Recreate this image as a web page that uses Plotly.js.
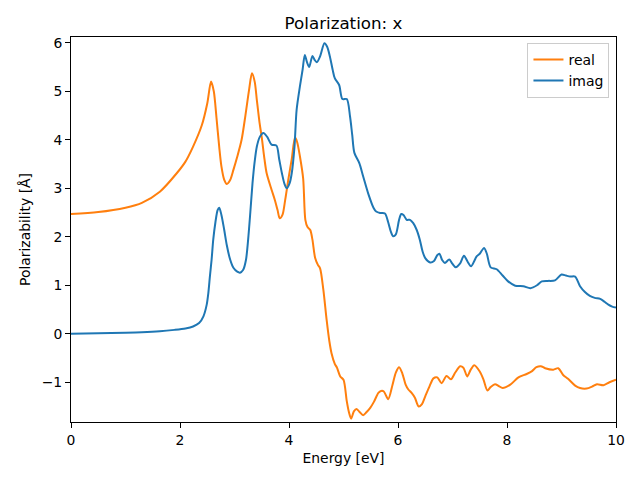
<!DOCTYPE html>
<html>
<head>
<meta charset="utf-8">
<script src="https://cdn.plot.ly/plotly-3.0.1.min.js"></script>
<style>html,body{margin:0;padding:0;background:#fff;}#chart{width:640px;height:480px;}</style>
</head>
<body>
<div id="chart"></div>
<script>
// Energy [eV] and values
const realE = [0, 0.5, 1.0, 1.3, 1.63, 1.94, 2.1, 2.24, 2.4, 2.5, 2.57, 2.62, 2.67, 2.72, 2.76, 2.81, 2.86, 2.92, 2.98, 3.05, 3.13, 3.2, 3.27, 3.32, 3.37, 3.41, 3.46, 3.5, 3.55, 3.59, 3.68, 3.74, 3.79, 3.83, 3.88, 3.93, 3.99, 4.05, 4.11, 4.15, 4.2, 4.26, 4.3, 4.34, 4.39, 4.43, 4.48, 4.53, 4.57, 4.63, 4.69, 4.74, 4.78, 4.84, 4.88, 4.94, 5.0, 5.06, 5.1, 5.14, 5.19, 5.24, 5.3, 5.36, 5.42, 5.49, 5.56, 5.64, 5.69, 5.74, 5.82, 5.9, 5.96, 6.02, 6.08, 6.14, 6.19, 6.25, 6.31, 6.38, 6.44, 6.5, 6.58, 6.65, 6.72, 6.8, 6.89, 6.97, 7.05, 7.14, 7.2, 7.27, 7.33, 7.4, 7.5, 7.57, 7.64, 7.7, 7.78, 7.85, 7.92, 8.06, 8.21, 8.36, 8.46, 8.54, 8.62, 8.7, 8.85, 8.94, 9.03, 9.12, 9.25, 9.34, 9.46, 9.56, 9.65, 9.77, 9.88, 10.0];
const realV = [2.47, 2.51, 2.6, 2.7, 2.93, 3.31, 3.55, 3.86, 4.3, 4.75, 5.2, 5.0, 4.45, 3.85, 3.45, 3.18, 3.09, 3.17, 3.38, 3.65, 4.0, 4.5, 5.05, 5.37, 5.2, 4.82, 4.35, 4.05, 3.6, 3.31, 2.97, 2.76, 2.55, 2.38, 2.45, 2.76, 3.2, 3.6, 4.05, 3.95, 3.66, 3.2, 2.35, 2.2, 2.14, 1.94, 1.56, 1.42, 1.35, 0.91, 0.29, -0.15, -0.4, -0.62, -0.7, -0.88, -0.95, -1.39, -1.62, -1.75, -1.6, -1.55, -1.62, -1.68, -1.62, -1.53, -1.4, -1.22, -1.18, -1.19, -1.35, -1.05, -0.8, -0.69, -0.82, -1.05, -1.15, -1.22, -1.32, -1.5, -1.45, -1.29, -1.08, -0.92, -0.9, -1.02, -0.87, -0.94, -0.8, -0.67, -0.7, -0.88, -0.75, -0.65, -0.78, -0.95, -1.17, -1.1, -1.04, -1.08, -1.12, -1.05, -0.9, -0.83, -0.77, -0.69, -0.67, -0.71, -0.74, -0.71, -0.85, -0.93, -1.07, -1.12, -1.13, -1.09, -1.04, -1.06, -1.0, -0.95];

const imagE = [0, 0.5, 1.0, 1.3, 1.63, 1.9, 2.1, 2.24, 2.35, 2.43, 2.49, 2.52, 2.55, 2.58, 2.61, 2.65, 2.69, 2.72, 2.76, 2.81, 2.86, 2.92, 2.98, 3.05, 3.1, 3.16, 3.21, 3.25, 3.29, 3.33, 3.37, 3.41, 3.46, 3.53, 3.6, 3.68, 3.77, 3.82, 3.87, 3.92, 3.96, 4.01, 4.05, 4.1, 4.14, 4.2, 4.25, 4.29, 4.33, 4.37, 4.43, 4.47, 4.51, 4.57, 4.65, 4.7, 4.75, 4.8, 4.84, 4.92, 4.98, 5.06, 5.12, 5.16, 5.2, 5.29, 5.36, 5.46, 5.55, 5.6, 5.67, 5.76, 5.82, 5.87, 5.91, 5.96, 6.02, 6.06, 6.1, 6.16, 6.22, 6.28, 6.34, 6.4, 6.45, 6.5, 6.59, 6.66, 6.72, 6.76, 6.81, 6.86, 6.94, 7.0, 7.06, 7.14, 7.21, 7.28, 7.34, 7.4, 7.44, 7.5, 7.58, 7.63, 7.7, 7.81, 7.92, 8.02, 8.15, 8.3, 8.43, 8.55, 8.64, 8.75, 8.88, 9.0, 9.08, 9.16, 9.25, 9.34, 9.43, 9.52, 9.61, 9.71, 9.79, 9.86, 9.93, 10.0];
const imagV = [0.0, 0.01, 0.02, 0.03, 0.05, 0.08, 0.11, 0.15, 0.22, 0.36, 0.6, 0.84, 1.2, 1.53, 1.94, 2.3, 2.55, 2.6, 2.45, 2.15, 1.82, 1.53, 1.36, 1.28, 1.26, 1.32, 1.52, 1.94, 2.5, 3.1, 3.55, 3.86, 4.05, 4.14, 4.06, 3.9, 3.88, 3.6, 3.31, 3.08, 3.0, 3.1, 3.31, 3.85, 4.62, 5.1, 5.45, 5.75, 5.6, 5.5, 5.73, 5.65, 5.6, 5.72, 5.99, 5.92, 5.72, 5.45, 5.27, 5.13, 4.84, 4.84, 4.48, 4.1, 3.73, 3.52, 3.25, 2.87, 2.6, 2.52, 2.49, 2.48, 2.3, 2.1, 2.01, 2.05, 2.35, 2.47, 2.45, 2.35, 2.35, 2.28, 2.15, 1.94, 1.7, 1.56, 1.47, 1.5, 1.62, 1.65, 1.52, 1.46, 1.53, 1.44, 1.37, 1.45, 1.61, 1.48, 1.39, 1.5, 1.59, 1.65, 1.77, 1.65, 1.37, 1.33, 1.2, 1.08, 0.99, 0.98, 0.94, 1.0, 1.08, 1.09, 1.1, 1.22, 1.2, 1.18, 1.18, 0.98, 0.86, 0.78, 0.74, 0.72, 0.66, 0.6, 0.56, 0.54];

const xTicks = [0, 2, 4, 6, 8, 10];
const yTicks = [-1, 0, 1, 2, 3, 4, 5, 6];

const traces = [
  {x: realE, y: realV, name: 'real', type: 'scatter', mode: 'lines',
   line: {color: '#ff7f0e', width: 2, shape: 'spline', smoothing: 0.8}},
  {x: imagE, y: imagV, name: 'imag', type: 'scatter', mode: 'lines',
   line: {color: '#1f77b4', width: 2, shape: 'spline', smoothing: 0.8}}
];

const font = {family: 'DejaVu Sans, sans-serif', color: '#000'};
const layout = {
  width: 640, height: 480,
  paper_bgcolor: '#fff', plot_bgcolor: '#fff',
  margin: {l: 71, r: 24, t: 37, b: 58, pad: 0},
  font: Object.assign({size: 14}, font),
  title: {text: 'Polarization: x', font: Object.assign({size: 16.7}, font),
          x: 0.5, xref: 'paper', xanchor: 'center', y: 0.952, yref: 'container', yanchor: 'middle'},
  showlegend: true,
  legend: {x: 0.988, y: 0.985, xanchor: 'right', yanchor: 'top',
           bgcolor: 'rgba(255,255,255,0.8)', bordercolor: '#cccccc', borderwidth: 1,
           font: Object.assign({size: 14}, font), itemwidth: 30, tracegroupgap: 0},
  xaxis: {range: [0, 10], tickvals: xTicks, ticktext: xTicks.map(String),
          ticks: 'outside', ticklen: 5, tickwidth: 1, tickcolor: '#000',
          showline: true, linecolor: '#000', linewidth: 1, mirror: true,
          showgrid: false, zeroline: false,
          tickfont: Object.assign({size: 13.9}, font),
          title: {text: 'Energy [eV]', font: Object.assign({size: 13.9}, font), standoff: 6}},
  yaxis: {range: [-1.82, 6.12], tickvals: yTicks, ticktext: yTicks.map(v => v < 0 ? '\u2212' + Math.abs(v) : String(v)),
          ticks: 'outside', ticklen: 5, tickwidth: 1, tickcolor: '#000',
          showline: true, linecolor: '#000', linewidth: 1, mirror: true,
          showgrid: false, zeroline: false,
          tickfont: Object.assign({size: 13.9}, font),
          title: {text: 'Polarizability [Å]', font: Object.assign({size: 13.9}, font), standoff: 7}}
};

Plotly.newPlot('chart', traces, layout, {displayModeBar: false, staticPlot: true});
</script>
</body>
</html>
